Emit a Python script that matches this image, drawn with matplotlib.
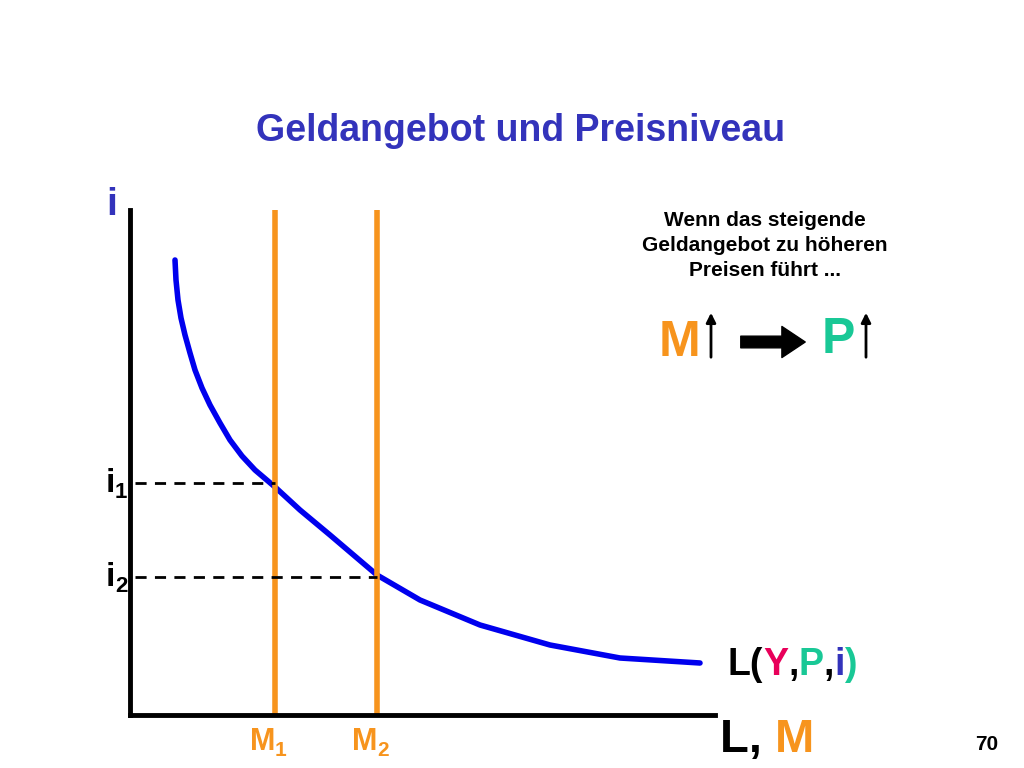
import numpy as np
import matplotlib
matplotlib.use("Agg")
import matplotlib.pyplot as plt
from matplotlib.transforms import offset_copy

plt.rcParams["font.family"] = "Liberation Sans"
plt.rcParams["font.weight"] = "bold"

# liquidity demand curve L(Y,P,i)
curve_x = [45, 46, 48, 51, 55, 60, 65, 72, 80, 90, 100, 112, 125, 145, 170, 200, 247, 290, 350, 420, 490, 570]
curve_y = [455, 435, 415, 397, 380, 362, 345, 327, 310, 292, 275, 259, 245, 228, 205, 180, 140, 115, 90, 70, 57, 52]
money_supply = {"M1": 145, "M2": 247}
rates = {"i1": 232, "i2": 138}

BLUE = "#3333bb"
ORANGE = "#f7941d"
TEAL = "#19c896"
RED = "#e8005a"

fig = plt.figure(figsize=(10.24, 7.68), dpi=100)
ax = fig.add_axes([130 / 1024, 53 / 768, 585 / 1024, 505 / 768])
ax.set_xlim(0, 585)
ax.set_ylim(0, 505)
for s in ["top", "right"]:
    ax.spines[s].set_visible(False)
for s in ["left", "bottom"]:
    ax.spines[s].set_linewidth(3.5)
ax.set_xticks([])
ax.set_yticks([])

ax.plot(curve_x, curve_y, color="#0000ee", lw=4, solid_capstyle="round", solid_joinstyle="round")
for name, x in money_supply.items():
    ax.axvline(x, color=ORANGE, lw=4)
    ax.text(x, -12, name[0], color=ORANGE, fontsize=22, ha="right", va="top")
    ax.text(x, -26, name[1], color=ORANGE, fontsize=15, ha="left", va="top")
for (name, y), x in zip(rates.items(), money_supply.values()):
    ax.plot([5, x], [y, y], color="black", lw=2, ls=(0, (4, 3)))
    ax.text(-15, y, name[0], fontsize=24, ha="right", va="center")
    ax.text(-15, y - 10, name[1], fontsize=16, ha="left", va="center")

ax.text(-18, 510, "i", color=BLUE, fontsize=28, ha="center", va="center")

fig.text(0.508, 0.83, "Geldangebot und Preisniveau", color=BLUE, fontsize=27,
         ha="center", va="center")
fig.text(0.747, 0.68, "Wenn das steigende\nGeldangebot zu höheren\nPreisen führt ...",
         fontsize=15, ha="center", va="center", linespacing=1.4)
fig.text(0.975, 0.03, "70", fontsize=15, ha="right", va="center")


def colored(x, y, parts, size):
    t = fig.transFigure
    r = fig.canvas.get_renderer()
    for s, c in parts:
        txt = fig.text(x, y, s, color=c, fontsize=size, transform=t, va="center")
        w = txt.get_window_extent(r).width
        t = offset_copy(txt.get_transform(), fig=fig, x=w, units="dots")


colored(728 / 1024, 1 - 665 / 768, [("L(", "black"), ("Y", RED), (",", "black"), ("P", TEAL),
                                    (",", "black"), ("i", BLUE), (")", TEAL)], 27)
colored(720 / 1024, 1 - 740 / 768, [("L, ", "black"), ("M", ORANGE)], 34)

fig.text(680 / 1024, 1 - 343 / 768, "M", color=ORANGE, fontsize=36, ha="center", va="center")
fig.text(838 / 1024, 1 - 340 / 768, "P", color=TEAL, fontsize=36, ha="center", va="center")
for x in [711, 866]:
    fig.add_artist(matplotlib.patches.FancyArrowPatch(
        (x / 1024, 1 - 360 / 768), (x / 1024, 1 - 310 / 768), transform=fig.transFigure,
        arrowstyle="-|>", mutation_scale=14, lw=2, color="black"))
fig.add_artist(matplotlib.patches.FancyArrowPatch(
    (738 / 1024, 1 - 342 / 768), (808 / 1024, 1 - 342 / 768), transform=fig.transFigure,
    arrowstyle="simple,head_width=1.6,head_length=1.2,tail_width=0.6", mutation_scale=14,
    color="black"))

fig.savefig("out.png", dpi=100)
